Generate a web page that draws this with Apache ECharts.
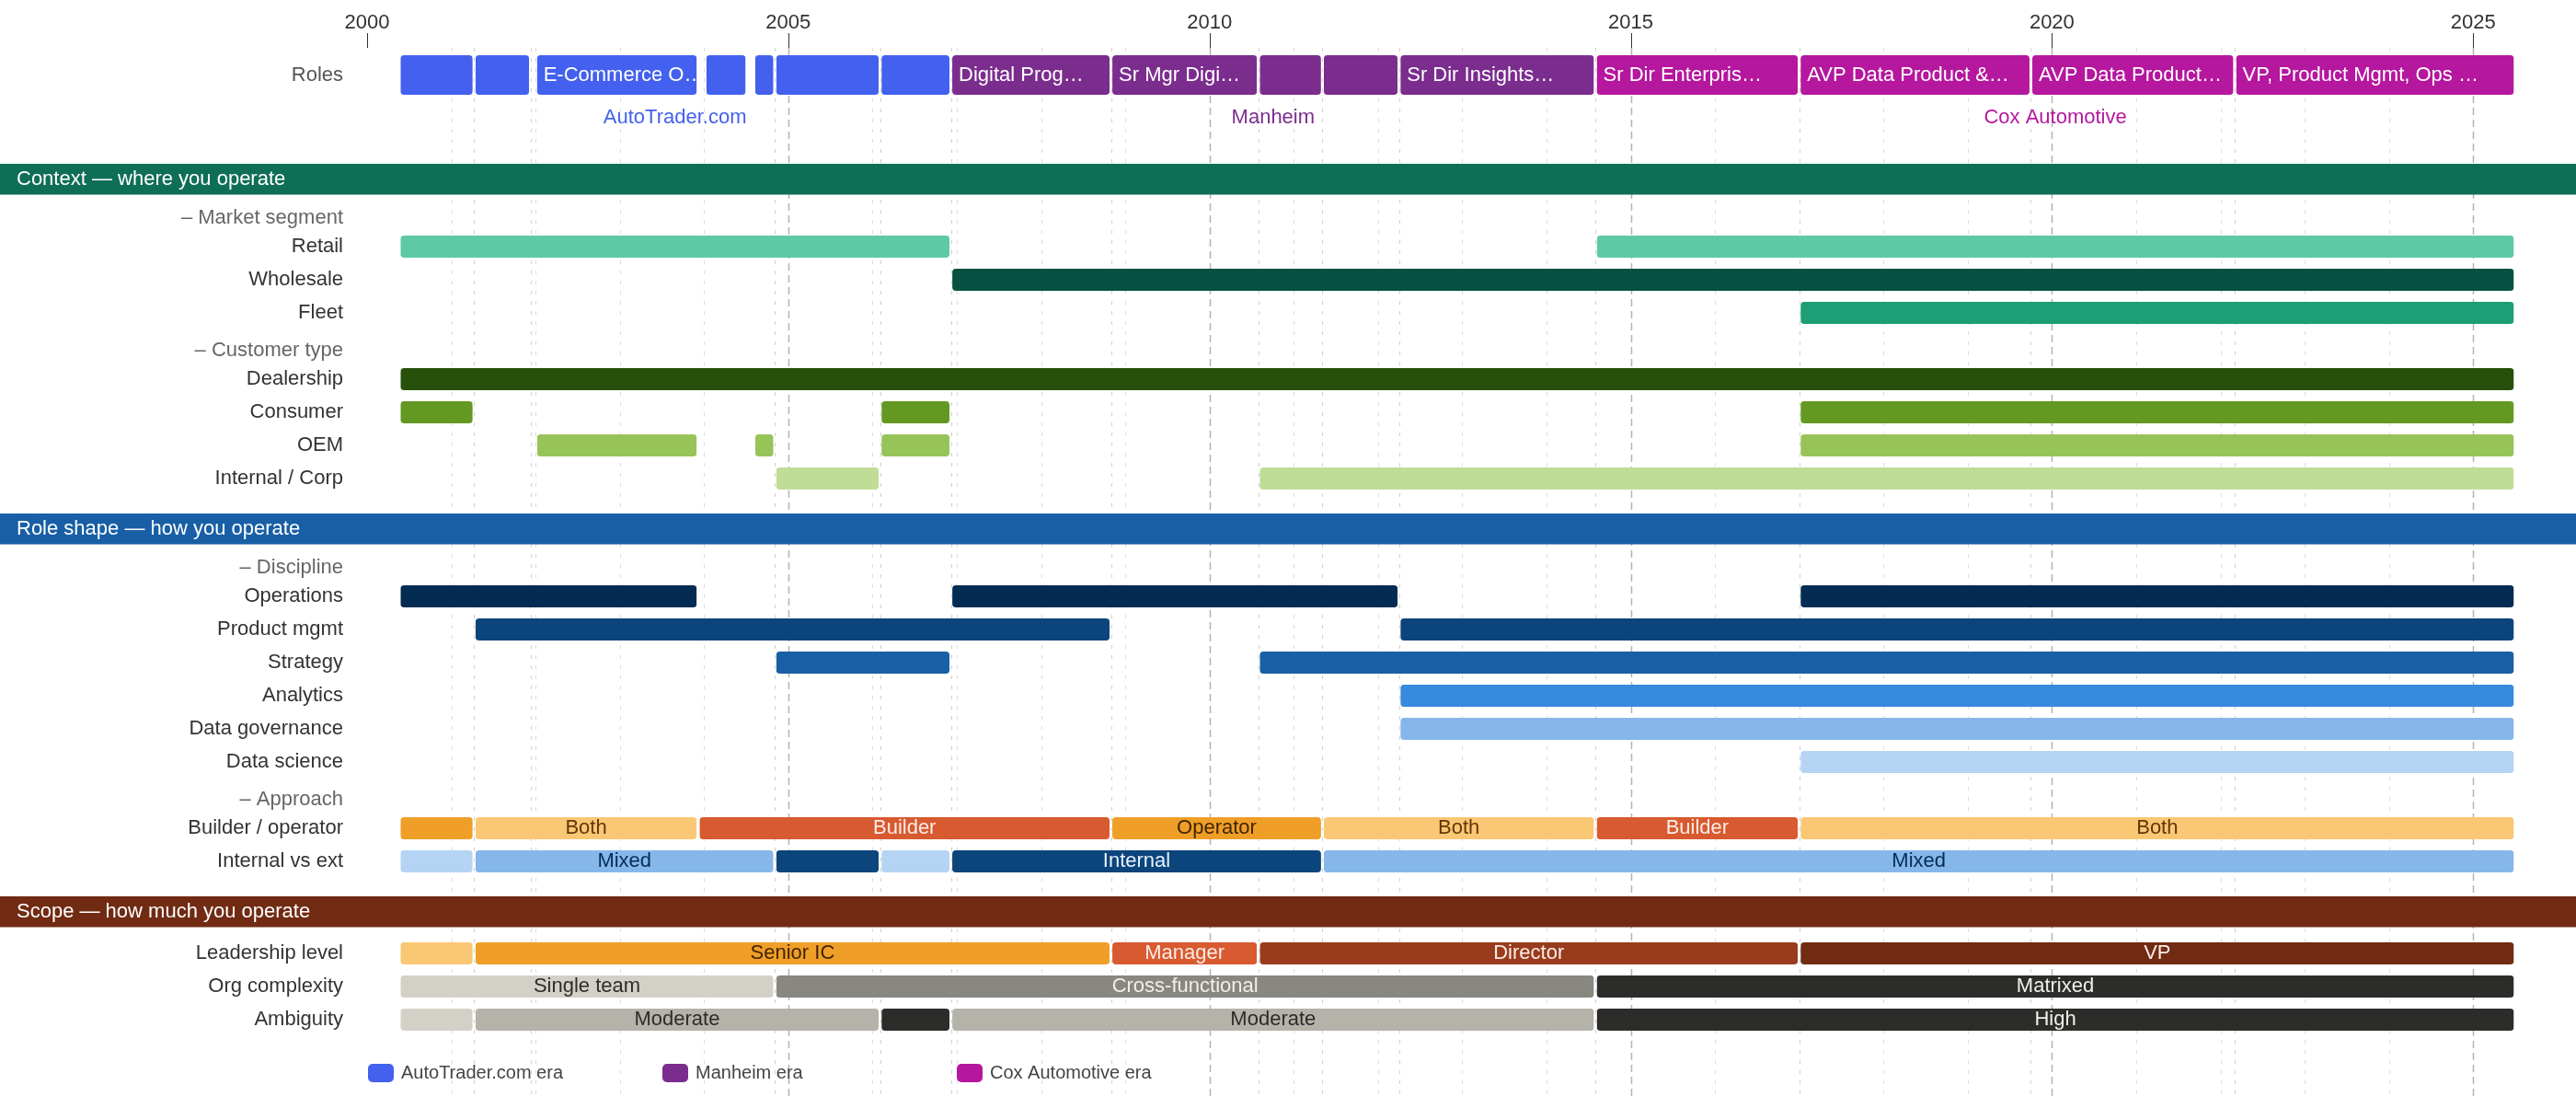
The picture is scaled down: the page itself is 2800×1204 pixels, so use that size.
<!DOCTYPE html>
<html>
<head>
<meta charset="utf-8">
<script src="https://cdn.jsdelivr.net/npm/echarts@6/dist/echarts.min.js"></script>
<style>
html,body{margin:0;padding:0;background:#ffffff;}
#chart{width:2800px;height:1204px;}
</style>
</head>
<body>
<div id="chart"></div>
<script>
// ================= DATA =================
const axisYears = [2000, 2005, 2010, 2015, 2020, 2025];
const majorLineYears = [2005, 2010, 2015, 2020, 2025];
const minorYears = [2001, 2002, 2003, 2004, 2006, 2007, 2008, 2009, 2011, 2012, 2013, 2014,
                    2016, 2017, 2018, 2019, 2021, 2022, 2023, 2024];
const milestoneYears = [2001.27, 2001.94, 2004.84, 2006.09, 2006.93, 2008.83, 2010.58,
                        2011.34, 2012.25, 2014.58, 2017.00, 2019.75, 2022.17];

const eras = ['AutoTrader.com', 'Manheim', 'Cox Automotive'];
const roleStart = [2000.38, 2001.27, 2002.00, 2004.01, 2004.59, 2004.84, 2006.09, 2006.93,
                   2008.83, 2010.58, 2011.34, 2012.25, 2014.58, 2017.00, 2019.75, 2022.17];
const roleEnd   = [2001.27, 2001.94, 2003.93, 2004.51, 2004.84, 2006.09, 2006.93, 2008.83,
                   2010.58, 2011.34, 2012.25, 2014.58, 2017.00, 2019.75, 2022.17, 2025.50];
const roleTitle = ['', '', 'E-Commerce O…', '', '', '', '', 'Digital Prog…',
                   'Sr Mgr Digi…', '', '', 'Sr Dir Insights…', 'Sr Dir Enterpris…',
                   'AVP Data Product &…', 'AVP Data Product…', 'VP, Product Mgmt, Ops …'];
const roleEra   = [0, 0, 0, 0, 0, 0, 0, 1, 1, 1, 1, 1, 2, 2, 2, 2];

const sectionTitles = ['Context — where you operate', 'Role shape — how you operate', 'Scope — how much you operate'];
const contextRows = ['– Market segment', 'Retail', 'Wholesale', 'Fleet', '– Customer type',
                     'Dealership', 'Consumer', 'OEM', 'Internal / Corp'];
const roleShapeRows = ['– Discipline', 'Operations', 'Product mgmt', 'Strategy', 'Analytics',
                       'Data governance', 'Data science', '– Approach', 'Builder / operator', 'Internal vs ext'];
const scopeRows = ['Leadership level', 'Org complexity', 'Ambiguity'];

// Context — market segment / customer type spans [start, end]
const retail       = [[2000.38, 2006.93], [2014.58, 2025.50]];
const wholesale    = [[2006.93, 2025.50]];
const fleet        = [[2017.00, 2025.50]];
const dealership   = [[2000.38, 2025.50]];
const consumer     = [[2000.38, 2001.27], [2006.09, 2006.93], [2017.00, 2025.50]];
const oem          = [[2002.00, 2003.93], [2004.59, 2004.84], [2006.09, 2006.93], [2017.00, 2025.50]];
const internalCorp = [[2004.84, 2006.09], [2010.58, 2025.50]];

// Role shape — discipline spans
const operations     = [[2000.38, 2003.93], [2006.93, 2012.25], [2017.00, 2025.50]];
const productMgmt    = [[2001.27, 2008.83], [2012.25, 2025.50]];
const strategy       = [[2004.84, 2006.93], [2010.58, 2025.50]];
const analytics      = [[2012.25, 2025.50]];
const dataGovernance = [[2012.25, 2025.50]];
const dataScience    = [[2017.00, 2025.50]];

// Approach / scope — [start, end, level]
const builderOperator = [[2000.38, 2001.27, 'Operator'], [2001.27, 2003.93, 'Both'], [2003.93, 2008.83, 'Builder'],
                         [2008.83, 2011.34, 'Operator'], [2011.34, 2014.58, 'Both'], [2014.58, 2017.00, 'Builder'],
                         [2017.00, 2025.50, 'Both']];
const internalVsExt   = [[2000.38, 2001.27, 'External'], [2001.27, 2004.84, 'Mixed'], [2004.84, 2006.09, 'Internal'],
                         [2006.09, 2006.93, 'External'], [2006.93, 2011.34, 'Internal'], [2011.34, 2025.50, 'Mixed']];
const leadershipLevel = [[2000.38, 2001.27, 'IC'], [2001.27, 2008.83, 'Senior IC'], [2008.83, 2010.58, 'Manager'],
                         [2010.58, 2017.00, 'Director'], [2017.00, 2025.50, 'VP']];
const orgComplexity   = [[2000.38, 2004.84, 'Single team'], [2004.84, 2014.58, 'Cross-functional'],
                         [2014.58, 2025.50, 'Matrixed']];
const ambiguity       = [[2000.38, 2001.27, 'Low'], [2001.27, 2006.09, 'Moderate'], [2006.09, 2006.93, 'High'],
                         [2006.93, 2014.58, 'Moderate'], [2014.58, 2025.50, 'High']];

// ================= STYLE =================
const FONT = "'Liberation Sans', Arial, sans-serif";
const eraColors = ['#4361EE', '#7B2D8E', '#B5179E'];
const sectionColors = ['#0F6E56', '#185FA5', '#712B13'];
const rowColor = {
  'Retail': '#5DCAA5', 'Wholesale': '#085041', 'Fleet': '#1D9E75',
  'Dealership': '#27500A', 'Consumer': '#639922', 'OEM': '#97C459', 'Internal / Corp': '#C0DD97',
  'Operations': '#042C53', 'Product mgmt': '#0C447C', 'Strategy': '#185FA5', 'Analytics': '#378ADD',
  'Data governance': '#85B7EB', 'Data science': '#B5D4F4'
};
const levelStyle = {
  'Operator': ['#EF9F27', '#412402'], 'Both': ['#FAC775', '#633806'], 'Builder': ['#D85A30', '#FAECE7'],
  'External': ['#B5D4F4', '#042C53'], 'Mixed': ['#85B7EB', '#042C53'], 'Internal': ['#0C447C', '#E6F1FB'],
  'IC': ['#FAC775', '#633806'], 'Senior IC': ['#EF9F27', '#412402'], 'Manager': ['#D85A30', '#FAECE7'],
  'Director': ['#993C1D', '#FAECE7'], 'VP': ['#712B13', '#FAECE7'],
  'Single team': ['#D3D1C7', '#2C2C2A'], 'Cross-functional': ['#888780', '#F1EFE8'], 'Matrixed': ['#2C2C2A', '#F1EFE8'],
  'Low': ['#D3D1C7', '#2C2C2A'], 'Moderate': ['#B4B2A9', '#2C2C2A'], 'High': ['#2C2C2A', '#F1EFE8']
};
const lineStyles = {
  minor: { color: '#dcdcdc', width: 1, dash: [4, 7] },
  milestone: { color: '#d0d0d0', width: 1, dash: [4, 7] },
  major: { color: '#b3b3b3', width: 1.5, dash: [8, 5] },
  tick: { color: '#333333', width: 1, dash: null }
};

// ================= LAYOUT =================
const W = 2800;
const GRID_L = 399, GRID_R = 66;
const X_MIN = 2000, X_MAX = 2025.5;
const INSET = 1.5;
const TICK_LEN = 16;
const ROW_BAR_H = 24, ROLE_BAR_H = 43;
const HEADER_TOP = [178, 558, 974], HEADER_H = 33.5;
const LABEL_MIN_W = 130;

const grids = [
  { left: GRID_L, right: GRID_R, top: 52, bottom: 11 },     // 0 background + axis
  { left: GRID_L, right: GRID_R, top: 60, height: 43 },     // 1 roles
  { left: GRID_L, right: GRID_R, top: 110, height: 36 },    // 2 company labels
  { left: GRID_L, right: GRID_R, top: 214, height: 324 },   // 3 context
  { left: GRID_L, right: GRID_R, top: 594, height: 360 },   // 4 role shape
  { left: GRID_L, right: GRID_R, top: 1018, height: 108 }   // 5 scope
];

// ================= BUILD =================
function buildSection(rows, spanMap) {
  const data = [], meta = [];
  rows.forEach((r, idx) => {
    const spans = spanMap[r];
    if (!spans) return;
    spans.forEach(sp => {
      data.push([sp[0], sp[1], idx]);
      if (sp.length > 2) {
        const st = levelStyle[sp[2]];
        meta.push({ fill: st[0], text: sp[2], textFill: st[1] });
      } else {
        meta.push({ fill: rowColor[r], text: '', textFill: '#fff' });
      }
    });
  });
  return { data, meta };
}

function makeSpanRenderer(meta, barH, mode) {
  return function (params, api) {
    const m = meta[params.dataIndex];
    const row = api.value(2);
    const p0 = api.coord([api.value(0), row]);
    const p1 = api.coord([api.value(1), row]);
    const x = p0[0] + INSET;
    const w = Math.max(1, p1[0] - p0[0] - 2 * INSET);
    const y = p0[1] - barH / 2;
    const children = [{
      type: 'rect',
      shape: { x: x, y: y, width: w, height: barH, r: 4 },
      style: { fill: m.fill }
    }];
    if (m.text && (mode === 'left' || w >= LABEL_MIN_W)) {
      if (mode === 'left') {
        children.push({
          type: 'text',
          style: { x: x + 7, y: p0[1], text: m.text, fill: m.textFill, font: '22px ' + FONT,
                   align: 'left', verticalAlign: 'middle' }
        });
      } else {
        children.push({
          type: 'text',
          style: { x: x + w / 2, y: p0[1], text: m.text, fill: m.textFill, font: '22px ' + FONT,
                   align: 'center', verticalAlign: 'middle' }
        });
      }
    }
    return {
      type: 'group',
      clipPath: { type: 'rect', shape: { x: x, y: y, width: w, height: barH } },
      children: children
    };
  };
}

// gridlines + top ticks
const gridLineData = [];
const gridLineKind = [];
minorYears.forEach(v => { gridLineData.push([v, 0]); gridLineKind.push('minor'); });
milestoneYears.forEach(v => { gridLineData.push([v, 0]); gridLineKind.push('milestone'); });
majorLineYears.forEach(v => { gridLineData.push([v, 0]); gridLineKind.push('major'); });
axisYears.forEach(v => { gridLineData.push([v, 0]); gridLineKind.push('tick'); });

function gridLineItem(params, api) {
  const c = params.coordSys;
  const kind = gridLineKind[params.dataIndex];
  const st = lineStyles[kind];
  const px = Math.round(api.coord([api.value(0), 0])[0]) + 0.5;
  const y1 = kind === 'tick' ? c.y - TICK_LEN : c.y;
  const y2 = kind === 'tick' ? c.y : c.y + c.height;
  return {
    type: 'line',
    shape: { x1: px, y1: y1, x2: px, y2: y2 },
    style: { stroke: st.color, lineWidth: st.width, lineDash: st.dash }
  };
}

// sections
const ctx = buildSection(contextRows, {
  'Retail': retail, 'Wholesale': wholesale, 'Fleet': fleet, 'Dealership': dealership,
  'Consumer': consumer, 'OEM': oem, 'Internal / Corp': internalCorp
});
const shape = buildSection(roleShapeRows, {
  'Operations': operations, 'Product mgmt': productMgmt, 'Strategy': strategy, 'Analytics': analytics,
  'Data governance': dataGovernance, 'Data science': dataScience,
  'Builder / operator': builderOperator, 'Internal vs ext': internalVsExt
});
const scope = buildSection(scopeRows, {
  'Leadership level': leadershipLevel, 'Org complexity': orgComplexity, 'Ambiguity': ambiguity
});

// roles per era
const roleSeries = eras.map((era, ei) => {
  const data = [], meta = [];
  roleStart.forEach((s, i) => {
    if (roleEra[i] !== ei) return;
    data.push([s, roleEnd[i], 0]);
    meta.push({ fill: eraColors[ei], text: roleTitle[i], textFill: '#ffffff' });
  });
  return {
    type: 'custom', name: era + ' era', xAxisIndex: 1, yAxisIndex: 1, z: 3,
    itemStyle: { color: eraColors[ei] },
    encode: { x: [0, 1], y: 2 },
    renderItem: makeSpanRenderer(meta, ROLE_BAR_H, 'left'),
    data: data
  };
});

// company labels at era midpoints
const eraMid = eras.map((e, ei) => {
  const idx = roleEra.map((v, i) => v === ei ? i : -1).filter(i => i >= 0);
  const s = Math.min(...idx.map(i => roleStart[i]));
  const en = Math.max(...idx.map(i => roleEnd[i]));
  return [(s + en) / 2, 0];
});

function sectionSeries(sec, axisIdx) {
  return {
    type: 'custom', xAxisIndex: axisIdx, yAxisIndex: axisIdx, z: 3, silent: true,
    encode: { x: [0, 1], y: 2 },
    renderItem: makeSpanRenderer(sec.meta, ROW_BAR_H, 'center'),
    data: sec.data
  };
}

const xAxes = grids.map((g, i) => ({
  gridIndex: i, type: 'value', min: X_MIN, max: X_MAX, interval: 5,
  position: 'top',
  show: i === 0,
  axisLine: { show: false },
  splitLine: { show: false },
  minorTick: { show: false },
  axisTick: { show: false },
  axisLabel: {
    show: i === 0,
    customValues: axisYears, fontSize: 22, color: '#333333', margin: 16, fontFamily: FONT,
    formatter: v => (Math.abs(v % 5) < 1e-6 ? String(v) : '')
  }
}));

const rowLabel = {
  fontSize: 22, color: '#333333', margin: 26, fontFamily: FONT,
  formatter: v => (v.startsWith('–') ? '{sub|' + v + '}' : v),
  rich: { sub: { fontSize: 22, color: '#666666', fontFamily: FONT, padding: [10, 0, 0, 0] } }
};

const baseCatAxis = {
  type: 'category', inverse: true,
  axisLine: { show: false }, axisTick: { show: false }, splitLine: { show: false },
  axisLabel: rowLabel
};

const yAxes = [
  { gridIndex: 0, type: 'value', min: 0, max: 1, show: false,
    axisLine: { show: false }, axisTick: { show: false }, splitLine: { show: false }, axisLabel: { show: false } },
  Object.assign({}, baseCatAxis, { gridIndex: 1, data: ['Roles'],
    axisLabel: { fontSize: 22, color: '#555555', margin: 26, fontFamily: FONT } }),
  { gridIndex: 2, type: 'category', inverse: true, show: false, data: [''] },
  Object.assign({}, baseCatAxis, { gridIndex: 3, data: contextRows }),
  Object.assign({}, baseCatAxis, { gridIndex: 4, data: roleShapeRows }),
  Object.assign({}, baseCatAxis, { gridIndex: 5, data: scopeRows })
];

const series = [
  {
    type: 'custom', xAxisIndex: 0, yAxisIndex: 0, z: 1, silent: true,
    encode: { x: 0, y: 1 },
    renderItem: gridLineItem,
    data: gridLineData
  },
  ...roleSeries,
  {
    type: 'custom', xAxisIndex: 2, yAxisIndex: 2, z: 3, silent: true,
    encode: { x: 0, y: 1 },
    renderItem: function (params, api) {
      const p = api.coord([api.value(0), 0]);
      return {
        type: 'text',
        style: { x: p[0], y: p[1], text: eras[params.dataIndex], fill: eraColors[params.dataIndex],
                 font: '22px ' + FONT, align: 'center', verticalAlign: 'middle' }
      };
    },
    data: eraMid
  },
  sectionSeries(ctx, 3),
  sectionSeries(shape, 4),
  sectionSeries(scope, 5)
];

const graphic = [];
sectionTitles.forEach((t, i) => {
  graphic.push({
    type: 'rect', x: 0, y: HEADER_TOP[i], z: 10, silent: true,
    shape: { width: W, height: HEADER_H }, style: { fill: sectionColors[i] }
  });
  graphic.push({
    type: 'text', x: 18, y: HEADER_TOP[i] + HEADER_H / 2, z: 11, silent: true,
    style: { text: t, fill: '#ffffff', font: '22px ' + FONT, verticalAlign: 'middle', align: 'left' }
  });
});

const legends = eras.map((e, i) => ({
  data: [{ name: e + ' era', icon: 'roundRect' }],
  left: 400 + 320 * i, top: 1156, padding: 0,
  itemWidth: 28, itemHeight: 20,
  textStyle: { fontSize: 20, color: '#444444', fontFamily: FONT, padding: [0, 0, 0, 3] }
}));

const chart = echarts.init(document.getElementById('chart'), null, { renderer: 'canvas' });
chart.setOption({
  backgroundColor: '#ffffff',
  animation: false,
  textStyle: { fontFamily: FONT },
  grid: grids,
  xAxis: xAxes,
  yAxis: yAxes,
  legend: legends,
  graphic: graphic,
  series: series
});
</script>
</body>
</html>
